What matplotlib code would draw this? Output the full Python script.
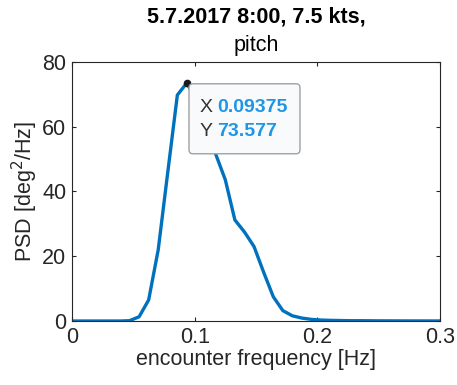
import matplotlib
matplotlib.use("Agg")
import matplotlib.pyplot as plt
from matplotlib.patches import FancyBboxPatch

plt.rcParams['font.family'] = ['Liberation Sans', 'DejaVu Sans']

# pitch PSD, frequency resolution 1/128 Hz
freq = [0.0, 0.0078, 0.0156, 0.0234, 0.0313, 0.0391, 0.0469, 0.0547, 0.0625,
        0.0703, 0.0781, 0.0859, 0.09375, 0.1016, 0.1094, 0.1172, 0.125, 0.1328,
        0.1406, 0.1484, 0.1563, 0.1641, 0.1719, 0.1797, 0.1875, 0.1953, 0.2031,
        0.2109, 0.2188, 0.2266, 0.2344, 0.2422, 0.25, 0.2578, 0.2656, 0.2734,
        0.2813, 0.2891, 0.2969, 0.3]
psd = [0.0, 0.0, 0.0, 0.0, 0.0, 0.0, 0.1, 1.3, 6.5,
       22.0, 46.0, 69.8, 73.577, 67.5, 60.0, 51.5, 43.6, 31.2,
       27.5, 23.0, 15.0, 7.5, 3.2, 1.6, 0.9, 0.5, 0.3,
       0.2, 0.15, 0.1, 0.1, 0.08, 0.06, 0.05, 0.04, 0.03,
       0.03, 0.02, 0.02, 0.02]

peak_x = 0.09375
peak_y = 73.577

xticks = [0, 0.1, 0.2, 0.3]
yticks = [0, 20, 40, 60, 80]

dark = '#262626'
blue = '#0072BD'
tip_blue = '#1E96E6'
fs = 15.5

fig = plt.figure(figsize=(4.57, 3.85), dpi=100)
ax = fig.add_axes([0.1575, 0.1662, 0.8053, 0.6728])

ax.plot(freq, psd, color=blue, linewidth=2.4, solid_joinstyle='round')
ax.set_xlim(0, 0.3)
ax.set_ylim(0, 80)
ax.set_xticks(xticks)
ax.set_xticklabels(['0', '0.1', '0.2', '0.3'])
ax.set_yticks(yticks)
ax.tick_params(direction='in', length=3, width=0.8, colors=dark,
               labelsize=fs, top=True, right=True)
ax.tick_params(axis='y', pad=4)
ax.tick_params(axis='x', pad=4)
for s in ax.spines.values():
    s.set_color(dark)
    s.set_linewidth(0.8)

ax.set_xlabel('encounter frequency [Hz]', fontsize=fs, color=dark, labelpad=1)
ax.set_ylabel('PSD [deg$^2$/Hz]', fontsize=fs, color=dark, labelpad=2)

ax.text(0.5, 1.135, '5.7.2017 8:00, 7.5 kts,', transform=ax.transAxes,
        ha='center', va='bottom', fontsize=fs, fontweight='bold', color='black')
ax.text(0.5, 1.025, 'pitch', transform=ax.transAxes,
        ha='center', va='bottom', fontsize=fs, color='black')

# data tip at the peak
ax.plot([peak_x], [peak_y], 'o', color='#1a1a1a', markersize=4.5, zorder=5,
        clip_on=False)

fig.canvas.draw()
px, py = ax.transData.transform((peak_x, peak_y))
inch = fig.dpi_scale_trans
x0 = px / fig.dpi + 0.02
y1 = py / fig.dpi - 0.01
w, h = 1.11, 0.70
box = FancyBboxPatch((x0, y1 - h), w, h,
                     boxstyle='round,pad=0,rounding_size=0.04',
                     transform=inch, facecolor='#f9fafc', edgecolor='#a0a0a0',
                     linewidth=1.0, zorder=6)
fig.add_artist(box)
rows = [('X', '0.09375', 0.24), ('Y', '%.3f' % peak_y, 0.475)]
for lab, val, dy in rows:
    fig.text(x0 + 0.11, y1 - dy, lab, transform=inch, ha='left', va='center',
             fontsize=14, color='#333333', zorder=7)
    fig.text(x0 + 0.28, y1 - dy, val, transform=inch, ha='left', va='center',
             fontsize=14, fontweight='bold', color=tip_blue, zorder=7)

fig.savefig('out.png', dpi=100)
